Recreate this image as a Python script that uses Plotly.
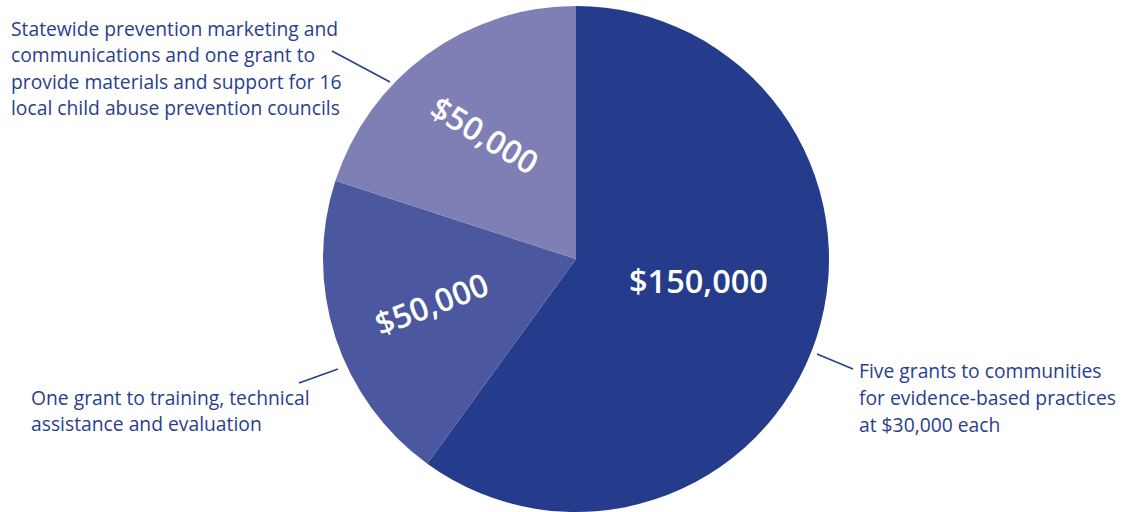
import math
import plotly.graph_objects as go

# ---- data ----
categories = [
    "Five grants to communities for evidence-based practices at $30,000 each",
    "One grant to training, technical assistance and evaluation",
    "Statewide prevention marketing and communications and one grant to provide materials and support for 16 local child abuse prevention councils",
]
values = [150000, 50000, 50000]
value_labels = ["$150,000", "$50,000", "$50,000"]
description_lines = [
    ["Five grants to communities", "for evidence-based practices", "at $30,000 each"],
    ["One grant to training, technical", "assistance and evaluation"],
    ["Statewide prevention marketing and", "communications and one grant to",
     "provide materials and support for 16", "local child abuse prevention councils"],
]
colors = ["#253C8C", "#4B579E", "#7E80B5"]

# ---- layout geometry (pixels) ----
W, H = 1130, 512
CX, CY, R = 576, 259, 253
TEXT_COLOR = "#2A3E8E"
FONT = "Open Sans"

def px(x):
    return x / W

def py(y):
    return 1 - y / H

fig = go.Figure()
fig.add_trace(go.Pie(
    labels=categories,
    values=values,
    marker=dict(colors=colors, line=dict(width=0)),
    sort=False,
    direction="clockwise",
    rotation=0,
    textinfo="none",
    hoverinfo="label+value",
    showlegend=False,
    domain=dict(x=[px(CX - R), px(CX + R)], y=[py(CY + R), py(CY - R)]),
))

# inner value labels, placed along each slice's mid-angle
label_r = [0.49, 0.60, 0.61]
label_shift = [-8, 1, 0]
label_angle = [0, -21, 31]
label_size = [32.5, 32, 32]
total = sum(values)
cum = 0
annotations = []
for i, v in enumerate(values):
    mid = (cum + v / 2) / total * 360 + label_shift[i]
    cum += v
    a = math.radians(mid)
    x = CX + label_r[i] * R * math.sin(a)
    y = CY - label_r[i] * R * math.cos(a)
    annotations.append(dict(
        x=px(x), y=py(y), xref="paper", yref="paper",
        text=value_labels[i], showarrow=False, textangle=label_angle[i],
        xanchor="center", yanchor="middle",
        font=dict(family=FONT, size=label_size[i], color="white", weight=600),
    ))

# outside descriptions (x-left, first-line centre y, line spacing)
desc_pos = [(857, 370, 27), (29, 397, 26.5), (9, 28, 26.5)]
for i, lines in enumerate(description_lines):
    x0, y0, dy = desc_pos[i]
    for j, line in enumerate(lines):
        annotations.append(dict(
            x=px(x0), y=py(y0 + j * dy), xref="paper", yref="paper",
            text=line, showarrow=False, xanchor="left", yanchor="middle",
            font=dict(family=FONT, size=19.3, color=TEXT_COLOR),
        ))

# leader lines
leaders = [((817, 354), (853, 369)), ((299, 383), (338, 369)), ((332, 51), (390, 82))]
shapes = []
for (x0, y0), (x1, y1) in leaders:
    shapes.append(dict(type="line", xref="paper", yref="paper",
                       x0=px(x0), y0=py(y0), x1=px(x1), y1=py(y1),
                       line=dict(color=TEXT_COLOR, width=1.6)))

fig.update_layout(
    width=W, height=H,
    margin=dict(l=0, r=0, t=0, b=0),
    paper_bgcolor="white", plot_bgcolor="white",
    annotations=annotations, shapes=shapes,
)

fig.write_html("out.html")
